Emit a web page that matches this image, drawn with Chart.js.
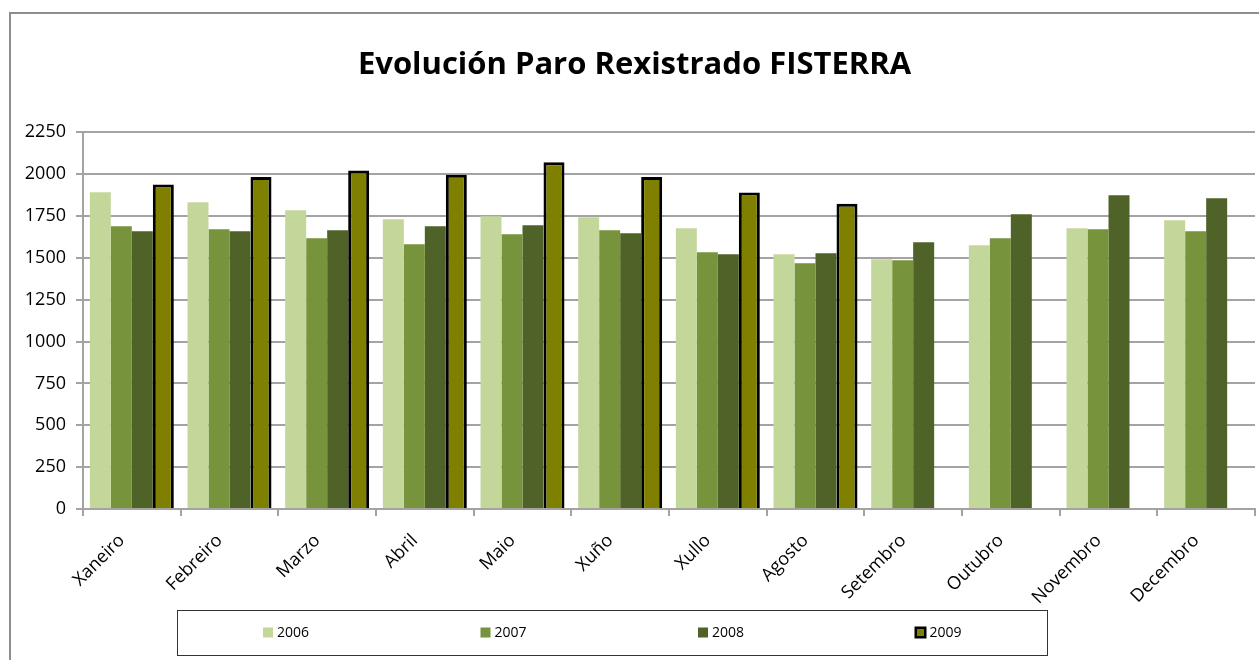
<!DOCTYPE html>
<html>
<head>
<meta charset="utf-8">
<script src="https://cdn.jsdelivr.net/npm/chart.js@4.4.0/dist/chart.umd.min.js"></script>
<style>
    body { margin: 0; background: #fff; }
    #wrap { position: relative; width: 1259px; height: 660px; overflow: hidden; }
    #frame { position: absolute; left: 9px; top: 12px; width: 1300px; height: 700px; border: 2px solid #8e8e8e; box-sizing: border-box; }
    #chart { position: absolute; left: 0; top: 0; }
</style>
</head>
<body>
<div id="wrap">
    <div id="frame"></div>
    <canvas id="chart" width="1259" height="660"></canvas>
</div>
<script>
const TITLE = 'Evolución Paro Rexistrado FISTERRA';
const months = ['Xaneiro', 'Febreiro', 'Marzo', 'Abril', 'Maio', 'Xuño', 'Xullo', 'Agosto', 'Setembro', 'Outubro', 'Novembro', 'Decembro'];
const years = ['2006', '2007', '2008', '2009'];

const paro2006 = [1891, 1832, 1784, 1730, 1748, 1742, 1677, 1521, 1492, 1575, 1677, 1724];
const paro2007 = [1689, 1671, 1617, 1581, 1641, 1665, 1533, 1468, 1486, 1617, 1671, 1659];
const paro2008 = [1659, 1659, 1665, 1689, 1694, 1647, 1521, 1527, 1593, 1760, 1874, 1856];
const paro2009 = [1938, 1982, 2021, 1996, 2071, 1982, 1890, 1823, null, null, null, null];

const yTicks = [0, 250, 500, 750, 1000, 1250, 1500, 1750, 2000, 2250];

const FONT = '"Open Sans", "DejaVu Sans", sans-serif';
const GRID = '#a3a3a3';

// legend drawn by hand: Excel style box with spread out entries
const boxLegend = {
    id: 'boxLegend',
    afterDraw(chart) {
        const ctx = chart.ctx;
        const left = 177, top = 610, right = 1047, bottom = 655;
        const slot = (right - left) / chart.data.datasets.length;
        ctx.save();
        ctx.strokeStyle = '#333';
        ctx.lineWidth = 1;
        ctx.strokeRect(left + 0.5, top + 0.5, right - left, bottom - top);
        ctx.font = '14px ' + FONT;
        ctx.textBaseline = 'middle';
        chart.data.datasets.forEach(function (ds, i) {
            let x = left + i * slot + 86;
            let y = (top + bottom) / 2;
            if (ds.borderWidth > 0) {
                ctx.fillStyle = '#000';
                ctx.fillRect(x - 1, y - 6, 12, 12);
                ctx.fillStyle = ds.backgroundColor;
                ctx.fillRect(x + 1.5, y - 3.5, 7, 7);
            } else {
                ctx.fillStyle = ds.backgroundColor;
                ctx.fillRect(x, y - 5, 10, 10);
            }
            ctx.fillStyle = '#000';
            ctx.fillText(ds.label, x + 14, y + 1);
        });
        ctx.restore();
    }
};

new Chart(document.getElementById('chart'), {
    type: 'bar',
    data: {
        labels: months,
        datasets: [
            { label: years[0], data: paro2006, backgroundColor: '#c4d79b', borderWidth: 0 },
            { label: years[1], data: paro2007, backgroundColor: '#77933c', borderWidth: 0 },
            { label: years[2], data: paro2008, backgroundColor: '#4f6228', borderWidth: 0 },
            { label: years[3], data: paro2009, backgroundColor: '#808000', borderColor: '#000', borderWidth: 3 }
        ]
    },
    options: {
        responsive: false,
        animation: false,
        layout: { padding: { left: 14, right: 4, top: 0, bottom: 0 } },
        datasets: {
            bar: { categoryPercentage: 0.86, barPercentage: 1.0 }
        },
        plugins: {
            legend: { display: false },
            tooltip: { enabled: false },
            title: {
                display: true,
                text: TITLE,
                color: '#000',
                font: { family: FONT, size: 31, weight: 'bold' },
                padding: { top: 47, bottom: 48 }
            }
        },
        scales: {
            x: {
                grid: { display: true, drawOnChartArea: false, drawTicks: true, tickLength: 7, color: GRID, lineWidth: 2 },
                border: { color: GRID, width: 2 },
                ticks: {
                    autoSkip: false,
                    maxRotation: 45,
                    minRotation: 45,
                    padding: 14,
                    labelOffset: -10,
                    color: '#000',
                    font: { family: FONT, size: 18 }
                },
                afterFit(scale) { scale.height = 151; }
            },
            y: {
                min: 0,
                max: 2250,
                afterBuildTicks(scale) { scale.ticks = yTicks.map(v => ({ value: v })); },
                grid: { color: GRID, lineWidth: 2, tickLength: 7 },
                border: { color: GRID, width: 2 },
                ticks: {
                    padding: 10,
                    color: '#000',
                    font: { family: FONT, size: 18 },
                    callback: function (value) { return String(value); }
                },
                afterFit(scale) { scale.width = 69; }
            }
        }
    },
    plugins: [boxLegend]
});
</script>
</body>
</html>
